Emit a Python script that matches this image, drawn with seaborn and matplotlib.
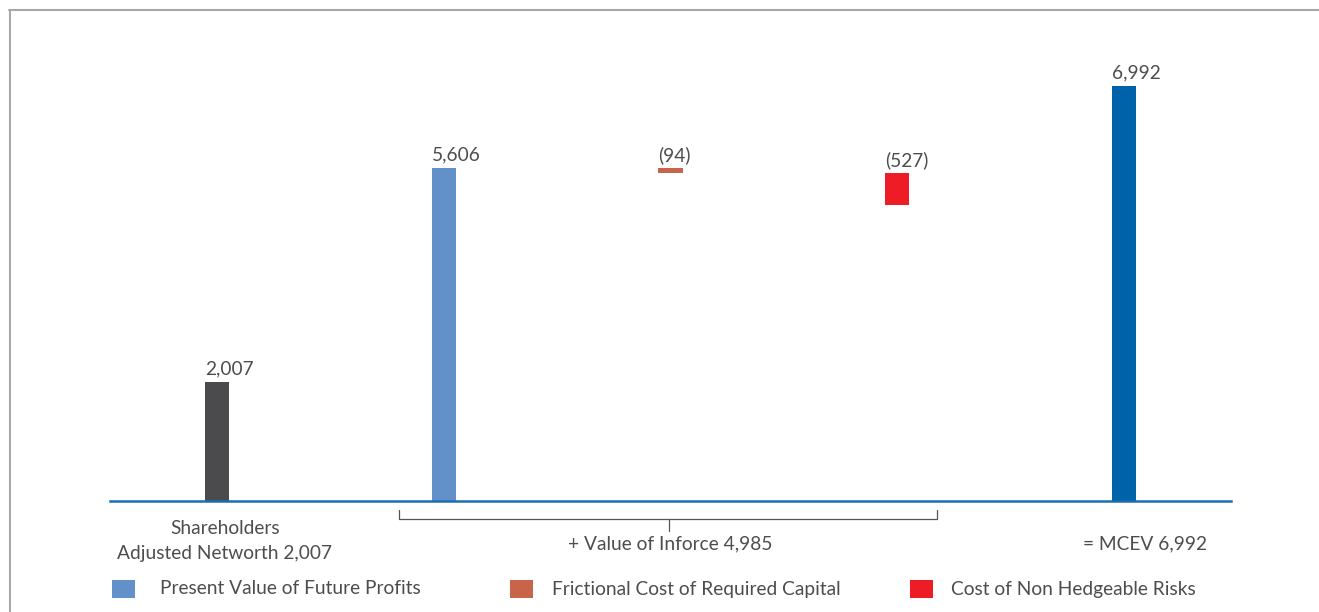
import matplotlib
matplotlib.use("Agg")
import matplotlib.pyplot as plt
import matplotlib.transforms as mtransforms
from matplotlib.lines import Line2D
from matplotlib.patches import Rectangle
import numpy as np
import pandas as pd
import seaborn as sns

# ---- data -------------------------------------------------------------
steps = ["Shareholders Adjusted Networth", "Present Value of Future Profits",
         "Frictional Cost of Required Capital", "Cost of Non Hedgeable Risks", "MCEV"]
amounts = [2007, 5606, -94, -527, 6992]
value_labels = ["2,007", "5,606", "(94)", "(527)", "6,992"]
bar_colors = ["#4b4b4d", "#6191c8", "#c8644a", "#ee1c25", "#0063a9"]

legend_names = ["Present Value of Future Profits", "Frictional Cost of Required Capital",
                "Cost of Non Hedgeable Risks"]
legend_colors = ["#6191c8", "#c8644a", "#ee1c25"]

group_texts = ["Shareholders\nAdjusted Networth 2,007", "+ Value of Inforce 4,985", "= MCEV 6,992"]

# ---- layout helpers ---------------------------------------------------
W, H = 1319, 612
TEXT = "#4d4d4f"
FS = 13.8

sns.set_theme(style="white")
plt.rcParams["font.family"] = ["Lato", "DejaVu Sans"]

fig = plt.figure(figsize=(W / 100, H / 100), dpi=100)
fig.patch.set_facecolor("white")

def fx(px):
    return px / W

def fy(py):
    return 1 - py / H

base_px = 501
px_per_unit = (base_px - 85.5) / 6992
ax = fig.add_axes([fx(110), fy(base_px), fx(1231) - fx(110), (base_px - 30) / H])
ax.set_ylim(0, (base_px - 30) / px_per_unit)

# waterfall geometry: the inforce adjustments float below the PVFP top
bottoms = []
heights = []
running = 0
for i, a in enumerate(amounts):
    if i == 0 or i == len(amounts) - 1:
        bottoms.append(0)
        heights.append(a)
    elif a >= 0:
        bottoms.append(0)
        heights.append(a)
        running = a
    else:
        running += a
        bottoms.append(running)
        heights.append(-a)

df = pd.DataFrame({"step": steps, "height": heights})
sns.barplot(data=df, x="step", y="height", hue="step", order=steps, hue_order=steps,
            palette=bar_colors, width=0.106, legend=False, ax=ax, saturation=1,
            edgecolor="none", linewidth=0)

bars = sorted([p for p in ax.patches if isinstance(p, Rectangle)],
              key=lambda p: p.get_x())
for bar, b in zip(bars, bottoms):
    bar.set_y(b)

ax.set_xlim(-0.472, 4.472)
for s in ["top", "left", "right"]:
    ax.spines[s].set_visible(False)
ax.spines["bottom"].set_color("#1b6cb0")
ax.spines["bottom"].set_linewidth(1.8)
ax.set_xticks([])
ax.set_yticks([])
ax.set_xlabel("")
ax.set_ylabel("")
ax.patch.set_alpha(0)

# value labels above each bar, flush with its left edge
for bar, lab in zip(bars, value_labels):
    ax.annotate(lab, (bar.get_x(), bar.get_y() + bar.get_height()),
                xytext=(0, 3), textcoords="offset points",
                ha="left", va="bottom", fontsize=FS, color=TEXT)

# group captions below the baseline
bt = mtransforms.blended_transform_factory(ax.transData, fig.transFigure)
ax.text(0.035, fy(528), group_texts[0].split("\n")[0], transform=bt,
        ha="center", va="center", fontsize=FS, color=TEXT)
ax.text(0.035, fy(553), group_texts[0].split("\n")[1], transform=bt,
        ha="center", va="center", fontsize=FS, color=TEXT)
ax.text(2.0, fy(544), group_texts[1], transform=bt,
        ha="center", va="center", fontsize=FS, color=TEXT)
ax.text(4.093, fy(544), group_texts[2], transform=bt,
        ha="center", va="center", fontsize=FS, color=TEXT)

# bracket grouping the value-of-inforce components
xl, xr, xc = 0.803, 3.175, 1.993
br_kw = dict(color="#555555", lw=0.9, transform=bt, clip_on=False)
ax.add_line(Line2D([xl, xl, xr, xr], [fy(510), fy(519), fy(519), fy(510)], **br_kw))
ax.add_line(Line2D([xc, xc], [fy(519), fy(531)], **br_kw))

# legend row
leg_x = [(112, 160), (510, 552), (910, 951)]
for (sx, tx), name, col in zip(leg_x, legend_names, legend_colors):
    fig.patches.append(Rectangle((fx(sx), fy(598)), fx(23), 18 / H,
                                 transform=fig.transFigure, facecolor=col,
                                 edgecolor="none"))
    fig.text(fx(tx), fy(589), name, ha="left", va="center", fontsize=FS, color=TEXT)

# thin grey frame along the top and left edges
fig.add_artist(Line2D([fx(9), 1.0], [fy(10), fy(10)], color="#a8a8a8", lw=1.5,
                      transform=fig.transFigure))
fig.add_artist(Line2D([fx(10), fx(10)], [fy(10), 0.0], color="#a8a8a8", lw=1.5,
                      transform=fig.transFigure))

fig.savefig("out.png", dpi=100, facecolor="white")
